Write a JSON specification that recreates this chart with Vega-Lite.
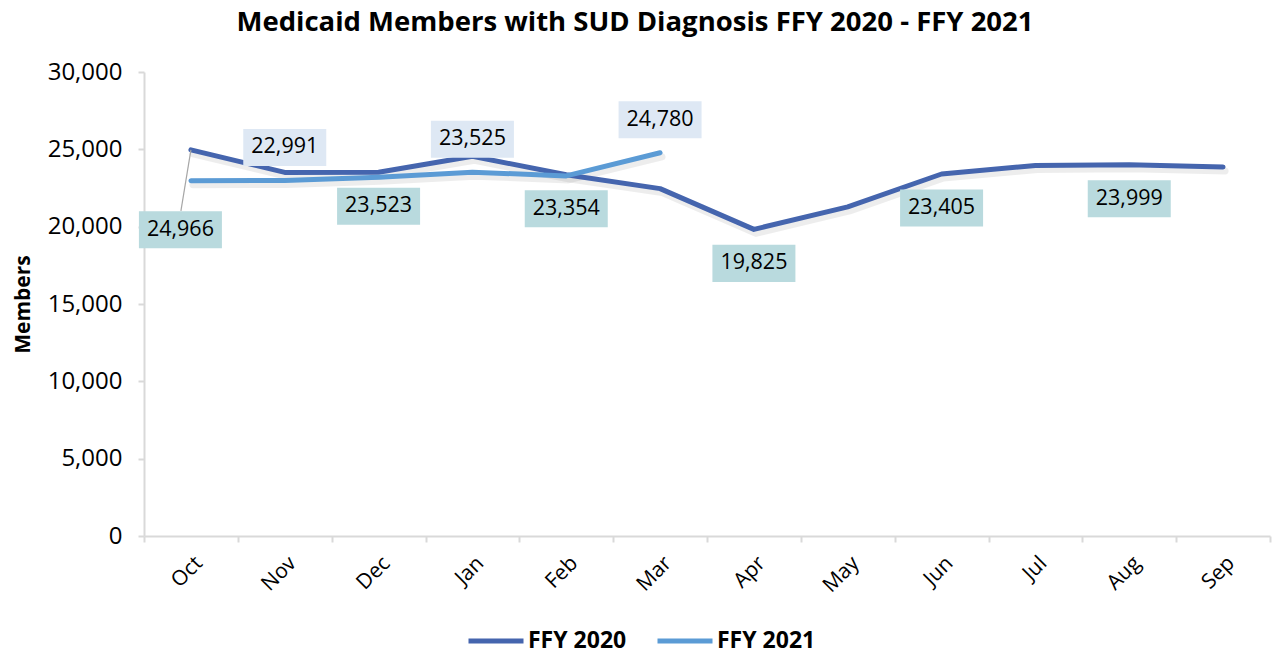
{
  "$schema": "https://vega.github.io/schema/vega-lite/v6.json",
  "autosize": {"type": "none"},
  "width": 1126,
  "height": 464,
  "padding": {"left": 144, "top": 72, "right": 2, "bottom": 118},
  "background": "white",
  "config": {"font": "Open Sans", "view": {"stroke": null}},
  "title": {"text": "Medicaid Members with SUD Diagnosis FFY 2020 - FFY 2021", "fontSize": 27.5, "fontWeight": "bold", "color": "#000000", "anchor": "middle", "dx": -72, "offset": 24},
  "data": {"values": [
    {"series": "FFY 2020", "month": "Oct", "value": 24966},
    {"series": "FFY 2020", "month": "Nov", "value": 23510},
    {"series": "FFY 2020", "month": "Dec", "value": 23523},
    {"series": "FFY 2020", "month": "Jan", "value": 24550},
    {"series": "FFY 2020", "month": "Feb", "value": 23354},
    {"series": "FFY 2020", "month": "Mar", "value": 22460},
    {"series": "FFY 2020", "month": "Apr", "value": 19825},
    {"series": "FFY 2020", "month": "May", "value": 21280},
    {"series": "FFY 2020", "month": "Jun", "value": 23405},
    {"series": "FFY 2020", "month": "Jul", "value": 23960},
    {"series": "FFY 2020", "month": "Aug", "value": 23999},
    {"series": "FFY 2020", "month": "Sep", "value": 23860},
    {"series": "FFY 2021", "month": "Oct", "value": 22970},
    {"series": "FFY 2021", "month": "Nov", "value": 22991},
    {"series": "FFY 2021", "month": "Dec", "value": 23200},
    {"series": "FFY 2021", "month": "Jan", "value": 23525},
    {"series": "FFY 2021", "month": "Feb", "value": 23280},
    {"series": "FFY 2021", "month": "Mar", "value": 24780}
  ]},
  "encoding": {
    "x": {"field": "month", "type": "nominal", "bandPosition": 0.5,
      "sort": ["Oct","Nov","Dec","Jan","Feb","Mar","Apr","May","Jun","Jul","Aug","Sep"],
      "scale": {"type": "band", "domain": ["Oct","Nov","Dec","Jan","Feb","Mar","Apr","May","Jun","Jul","Aug","Sep"], "paddingInner": 0, "paddingOuter": 0},
      "axis": {"title": null, "labelAngle": -45, "labelFontSize": 21, "labelColor": "#000000", "tickBand": "extent", "tickSize": 6, "tickColor": "#D9D9D9", "domainColor": "#D9D9D9", "domainWidth": 2, "tickWidth": 2, "labelPadding": 10}},
    "y": {"field": "value", "type": "quantitative",
      "scale": {"domain": [0, 30000], "nice": false, "zero": true},
      "axis": {"title": "Members", "titleFontSize": 21, "titleFontWeight": "bold", "titleColor": "#000000", "titlePadding": 14, "values": [0,5000,10000,15000,20000,25000,30000], "format": ",.0f", "labelFontSize": 24, "labelColor": "#000000", "grid": false, "tickSize": 6, "tickColor": "#D9D9D9", "domainColor": "#D9D9D9", "domainWidth": 2, "tickWidth": 2, "labelPadding": 16}}
  },
  "layer": [
    {
      "mark": {"type": "line", "stroke": "#000000", "opacity": 0.07, "strokeWidth": 7, "yOffset": 4, "xOffset": 2, "strokeCap": "round", "strokeJoin": "round"},
      "encoding": {"detail": {"field": "series", "type": "nominal"}}
    },
    {
      "mark": {"type": "line", "strokeWidth": 5, "strokeCap": "round", "strokeJoin": "round"},
      "encoding": {
        "color": {"field": "series", "type": "nominal",
          "scale": {"domain": ["FFY 2020", "FFY 2021"], "range": ["#4565AE", "#5B9BD5"]},
          "legend": {"title": null, "orient": "none", "legendX": 322, "legendY": 539, "direction": "horizontal", "symbolType": "stroke", "symbolStrokeWidth": 5, "symbolSize": 3025, "labelFontSize": 23, "labelFontWeight": "bold", "labelColor": "#000000", "labelOffset": 2, "columnPadding": 20}}
      }
    },
    {
      "transform": [{"filter": "datum.series == 'FFY 2020' && datum.month == 'Oct'"}],
      "mark": {"type": "rule", "color": "#A6A6A6", "strokeWidth": 1.2, "x2Offset": -10, "y2Offset": 61},
      "encoding": {"x2": {"field": "month"}, "y2": {"field": "value"}}
    },
    {
      "transform": [{"filter": "datum.series == 'FFY 2020' && indexof(['Dec','Feb','Apr','Jun','Aug'], datum.month) >= 0"}],
      "mark": {"type": "point", "shape": "M-1,-0.446H1V0.446H-1Z", "size": 6889, "filled": true, "opacity": 1, "color": "#B9DADE", "strokeWidth": 0, "yOffset": 34}
    },
    {
      "transform": [{"filter": "datum.series == 'FFY 2020' && datum.month == 'Oct'"}],
      "mark": {"type": "point", "shape": "M-1,-0.446H1V0.446H-1Z", "size": 6889, "filled": true, "opacity": 1, "color": "#B9DADE", "strokeWidth": 0, "yOffset": 80, "xOffset": -10.5}
    },
    {
      "transform": [{"filter": "datum.series == 'FFY 2021' && indexof(['Nov','Jan','Mar'], datum.month) >= 0"}],
      "mark": {"type": "point", "shape": "M-1,-0.446H1V0.446H-1Z", "size": 6889, "filled": true, "opacity": 1, "color": "#DEE8F4", "strokeWidth": 0, "yOffset": -33}
    },
    {
      "transform": [{"filter": "datum.series == 'FFY 2020' && indexof(['Dec','Feb','Apr','Jun','Aug'], datum.month) >= 0"}],
      "mark": {"type": "text", "fontSize": 21.5, "color": "#000000", "yOffset": 34, "baseline": "middle"},
      "encoding": {"text": {"field": "value", "type": "quantitative", "format": ","}}
    },
    {
      "transform": [{"filter": "datum.series == 'FFY 2020' && datum.month == 'Oct'"}],
      "mark": {"type": "text", "fontSize": 21.5, "color": "#000000", "yOffset": 80, "xOffset": -10.5, "baseline": "middle"},
      "encoding": {"text": {"field": "value", "type": "quantitative", "format": ","}}
    },
    {
      "transform": [{"filter": "datum.series == 'FFY 2021' && indexof(['Nov','Jan','Mar'], datum.month) >= 0"}],
      "mark": {"type": "text", "fontSize": 21.5, "color": "#000000", "yOffset": -33, "baseline": "middle"},
      "encoding": {"text": {"field": "value", "type": "quantitative", "format": ","}}
    }
  ]
}
